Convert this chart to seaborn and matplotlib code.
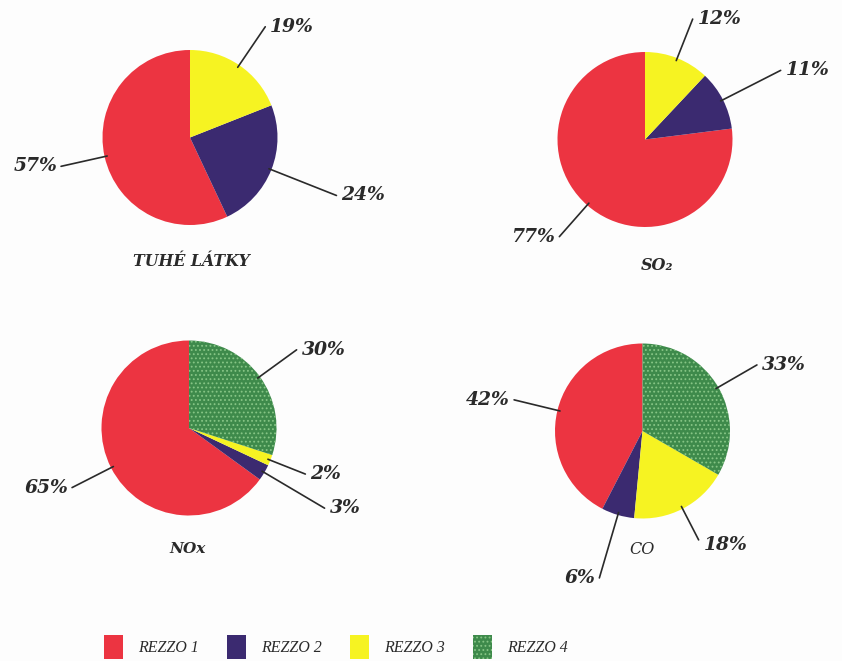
import numpy as np
import matplotlib
matplotlib.use("Agg")
import matplotlib.pyplot as plt
from matplotlib.patches import Patch
import seaborn as sns

# Emission shares by source category (REZZO 1-4), in percent
pollutants = ["TUHÉ LÁTKY", "SO₂", "NOx", "CO"]
rezzo_names = ["REZZO 1", "REZZO 2", "REZZO 3", "REZZO 4"]
rezzo1 = [57, 77, 65, 42]
rezzo2 = [24, 11, 3, 6]
rezzo3 = [19, 12, 2, 18]
rezzo4 = [0, 0, 30, 33]

sns.set_theme(style="white")
plt.rcParams["hatch.linewidth"] = 0.8

colors = ["#EC3441", "#3B2A70", "#F6F322", "#3E8A4B"]
hatch_color = "#86C585"

W, H = 842, 661
fig = plt.figure(figsize=(W / 100, H / 100), dpi=100)
fig.patch.set_facecolor("#FDFDFD")
ax = fig.add_axes([0, 0, 1, 1])
ax.set_facecolor("#FDFDFD")

# layout: pie centres (pixels from top-left), radius, title positions, leader lengths
centers = [(190, 137.5), (645, 139.5), (189, 428), (642.5, 431)]
radius = 87.5
title_pos = [(191, 262), (657, 265), (188, 549), (642, 550)]
title_weight = ["bold", "bold", "bold", "normal"]
title_size = [11.3, 11.5, 11.0, 11.5]
leader = [
    [1.51, 1.80, 1.53, 0],
    [1.48, 1.74, 1.48, 0],
    [1.50, 1.80, 1.43, 1.52],
    [1.51, 1.75, 1.40, 1.51],
]

pct_font = dict(family="DejaVu Serif", style="italic", weight="bold", size=13.5, color="#2a2a2a")

for i, name in enumerate(pollutants):
    vals = [rezzo1[i], rezzo2[i], rezzo3[i], rezzo4[i]]
    keep = [k for k, v in enumerate(vals) if v > 0]
    cx, cy = centers[i][0], H - centers[i][1]
    wedges, _ = ax.pie(
        [vals[k] for k in keep],
        colors=[colors[k] for k in keep],
        startangle=90, counterclock=True,
        center=(cx, cy), radius=radius, frame=True,
        wedgeprops=dict(linewidth=0),
    )
    for w, k in zip(wedges, keep):
        if k == 3:
            w.set_hatch("....")
            w.set_edgecolor(hatch_color)
            w.set_linewidth(0)
        mid = np.deg2rad((w.theta1 + w.theta2) / 2)
        c, s = np.cos(mid), np.sin(mid)
        L = leader[i][k]
        x0, y0 = cx + radius * 0.97 * c, cy + radius * 0.97 * s
        x1, y1 = cx + radius * L * c, cy + radius * L * s
        ax.plot([x0, x1], [y0, y1], color="#2a2a2a", lw=1.2, solid_capstyle="round")
        ha = "left" if c >= 0 else "right"
        gap = 5 if c >= 0 else -4
        dy = -5 if s < -0.8 and c >= 0 else 0
        ax.text(x1 + gap, y1 + dy, f"{vals[k]}%", ha=ha, va="center", **pct_font)
    tx, ty = title_pos[i]
    ax.text(tx, H - ty, name, ha="center", va="center", family="DejaVu Serif",
            style="italic", weight=title_weight[i], size=title_size[i], color="#2a2a2a")

ax.set_xlim(0, W)
ax.set_ylim(0, H)
ax.set_aspect("equal")
ax.axis("off")

handles = []
for k, lab in enumerate(rezzo_names):
    if k == 3:
        handles.append(Patch(facecolor=colors[k], edgecolor=hatch_color, hatch="....", linewidth=0, label=lab))
    else:
        handles.append(Patch(facecolor=colors[k], linewidth=0, label=lab))
leg = fig.legend(
    handles=handles, loc="center", bbox_to_anchor=(336 / W, 1 - 647 / H),
    ncol=4, frameon=False, handlelength=1.2, handleheight=1.9,
    handletextpad=0.95, columnspacing=1.75,
    prop=dict(family="Liberation Serif", style="italic", size=11.5),
)
for t in leg.get_texts():
    t.set_color("#2a2a2a")

fig.savefig("out.png", dpi=100, facecolor=fig.get_facecolor())
